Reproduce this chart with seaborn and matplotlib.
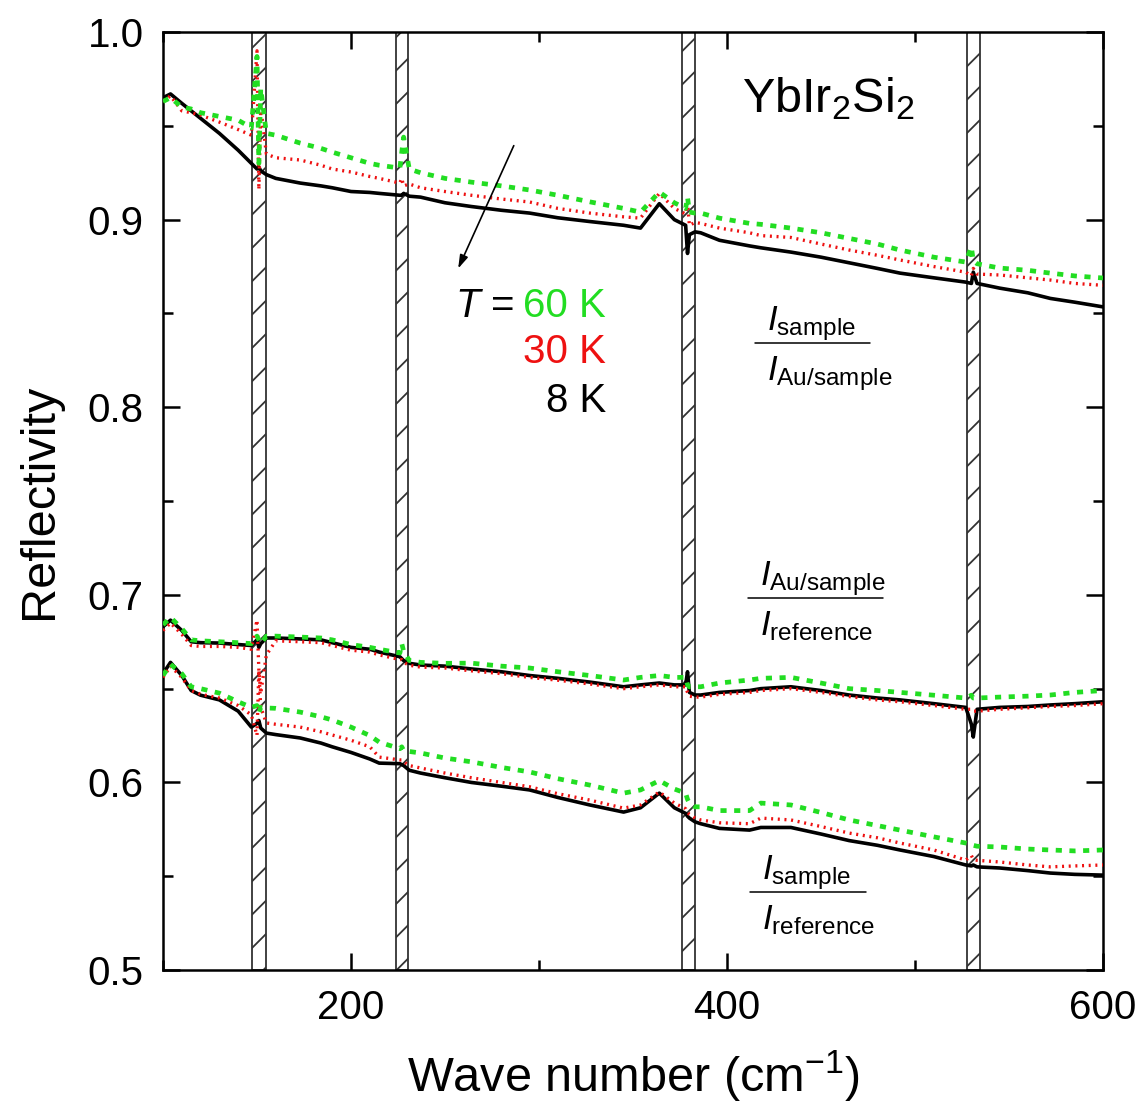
import numpy as np
import pandas as pd
import matplotlib
matplotlib.use("Agg")
import matplotlib.pyplot as plt
from matplotlib.ticker import MultipleLocator
import seaborn as sns

# wave number grid (cm-1)
wavenumber = [100, 104, 110, 115, 120, 130, 140, 147, 150, 151, 152, 155, 160, 173, 184, 190,
              200, 210, 215, 226, 227, 228, 231, 237, 250, 264, 280, 295, 310, 327, 345, 354,
              364, 372, 378, 379, 380, 383, 386, 396, 412, 418, 434, 450, 465, 480, 492, 510,
              527, 530, 531, 533, 545, 560, 572, 585, 600]

# I_sample / I_Au/sample
top_8K = [0.965, 0.967, 0.962, 0.958, 0.954, 0.946, 0.937, 0.930, 0.927, 0.928, 0.926, 0.924,
          0.922, 0.9195, 0.918, 0.917, 0.915, 0.9145, 0.914, 0.913, 0.913, 0.914, 0.9125, 0.912,
          0.909, 0.907, 0.905, 0.9035, 0.901, 0.899, 0.897, 0.8955, 0.9085, 0.900, 0.897, 0.882,
          0.892, 0.8935, 0.893, 0.889, 0.886, 0.885, 0.8827, 0.880, 0.877, 0.874, 0.8715, 0.869,
          0.8667, 0.866, 0.872, 0.866, 0.8635, 0.861, 0.858, 0.856, 0.8535]
top_30K = [0.963, 0.966, 0.958, 0.957, 0.9557, 0.952, 0.948, 0.945, 0.990, 0.916, 0.960, 0.935,
           0.933, 0.9318, 0.929, 0.927, 0.9254, 0.923, 0.922, 0.9195, 0.922, 0.918, 0.919, 0.917,
           0.915, 0.913, 0.911, 0.9094, 0.906, 0.9035, 0.9015, 0.9008, 0.914, 0.906, 0.903, 0.909,
           0.897, 0.8985, 0.898, 0.8955, 0.893, 0.8915, 0.8905, 0.887, 0.8838, 0.881, 0.8785, 0.875,
           0.872, 0.870, 0.874, 0.871, 0.8705, 0.869, 0.8678, 0.866, 0.865]
top_60K = [0.963, 0.965, 0.960, 0.959, 0.957, 0.955, 0.953, 0.949, 0.987, 0.930, 0.970, 0.946,
           0.945, 0.9408, 0.938, 0.936, 0.933, 0.930, 0.929, 0.9275, 0.936, 0.944, 0.927, 0.925,
           0.922, 0.920, 0.918, 0.9158, 0.913, 0.9095, 0.906, 0.904, 0.9147, 0.909, 0.906, 0.912,
           0.904, 0.9035, 0.9035, 0.9008, 0.898, 0.8975, 0.8955, 0.893, 0.890, 0.887, 0.8838, 0.880,
           0.8774, 0.8855, 0.878, 0.8765, 0.8742, 0.873, 0.8715, 0.870, 0.8689]

# I_Au/sample / I_reference
mid_8K = [0.683, 0.6865, 0.681, 0.675, 0.6745, 0.6743, 0.6735, 0.673, 0.676, 0.672, 0.674, 0.677,
          0.677, 0.6765, 0.676, 0.6745, 0.672, 0.671, 0.6695, 0.667, 0.666, 0.665, 0.6635, 0.6626,
          0.662, 0.6605, 0.659, 0.657, 0.6555, 0.6535, 0.651, 0.652, 0.653, 0.652, 0.652, 0.659,
          0.648, 0.6466, 0.6466, 0.648, 0.649, 0.650, 0.651, 0.649, 0.6466, 0.645, 0.644, 0.642,
          0.640, 0.631, 0.6242, 0.639, 0.640, 0.6405, 0.6413, 0.642, 0.643]
mid_30K = [0.681, 0.685, 0.679, 0.673, 0.6725, 0.6725, 0.672, 0.671, 0.6866, 0.660, 0.6476, 0.668,
           0.6755, 0.675, 0.6745, 0.673, 0.6705, 0.6695, 0.668, 0.6655, 0.6655, 0.664, 0.6625, 0.6615,
           0.661, 0.6595, 0.658, 0.656, 0.6545, 0.6525, 0.650, 0.651, 0.652, 0.651, 0.651, 0.648,
           0.646, 0.6455, 0.6455, 0.647, 0.648, 0.649, 0.650, 0.648, 0.6458, 0.644, 0.643, 0.641,
           0.639, 0.639, 0.638, 0.638, 0.639, 0.6398, 0.6405, 0.641, 0.642]
mid_60K = [0.684, 0.688, 0.682, 0.676, 0.6755, 0.675, 0.6745, 0.674, 0.678, 0.676, 0.674, 0.678,
           0.678, 0.6775, 0.677, 0.676, 0.6735, 0.672, 0.671, 0.669, 0.674, 0.670, 0.665, 0.664,
           0.6635, 0.6636, 0.662, 0.661, 0.659, 0.657, 0.6546, 0.656, 0.657, 0.656, 0.656, 0.652,
           0.651, 0.651, 0.651, 0.653, 0.6546, 0.6555, 0.656, 0.653, 0.650, 0.649, 0.648, 0.6465,
           0.645, 0.6465, 0.645, 0.645, 0.6455, 0.646, 0.6466, 0.648, 0.649]

# I_sample / I_reference
bot_8K = [0.658, 0.664, 0.657, 0.649, 0.6465, 0.644, 0.638, 0.6295, 0.6315, 0.633, 0.629, 0.6263,
          0.6255, 0.6237, 0.621, 0.619, 0.616, 0.6125, 0.6103, 0.610, 0.6095, 0.609, 0.6065, 0.605,
          0.6025, 0.600, 0.598, 0.596, 0.592, 0.588, 0.5842, 0.5865, 0.5943, 0.5865, 0.5835, 0.582,
          0.581, 0.579, 0.578, 0.5755, 0.5746, 0.576, 0.576, 0.5725, 0.569, 0.5665, 0.564, 0.5605,
          0.556, 0.5555, 0.556, 0.555, 0.5544, 0.553, 0.5517, 0.551, 0.5506]
bot_30K = [0.656, 0.662, 0.656, 0.649, 0.647, 0.645, 0.641, 0.636, 0.625, 0.660, 0.640, 0.6317,
           0.631, 0.6295, 0.627, 0.6253, 0.6225, 0.619, 0.6135, 0.612, 0.612, 0.611, 0.609, 0.6077,
           0.605, 0.6025, 0.600, 0.5977, 0.594, 0.5906, 0.5863, 0.588, 0.5949, 0.589, 0.586, 0.584,
           0.583, 0.581, 0.580, 0.5785, 0.578, 0.581, 0.580, 0.5765, 0.573, 0.5705, 0.5677, 0.564,
           0.5586, 0.561, 0.559, 0.5585, 0.5576, 0.556, 0.555, 0.5555, 0.556]
bot_60K = [0.657, 0.663, 0.658, 0.651, 0.650, 0.6476, 0.643, 0.640, 0.641, 0.637, 0.640, 0.6397,
           0.6395, 0.6375, 0.635, 0.6333, 0.6295, 0.625, 0.6215, 0.618, 0.619, 0.617, 0.6165, 0.6157,
           0.613, 0.611, 0.608, 0.6056, 0.602, 0.5986, 0.5943, 0.596, 0.601, 0.5965, 0.5943, 0.591,
           0.589, 0.587, 0.587, 0.585, 0.585, 0.589, 0.588, 0.584, 0.580, 0.577, 0.5746, 0.571,
           0.5677, 0.567, 0.5665, 0.566, 0.5656, 0.5645, 0.564, 0.5635, 0.564]

temperatures = ["8 K", "30 K", "60 K"]
ratios = ["top", "mid", "bot"]

# excluded spectral windows (cm-1)
band_lo = [147.3, 223.7, 376.0, 527.7]
band_hi = [154.8, 230.3, 383.0, 534.6]

series = {("top", "8 K"): top_8K, ("top", "30 K"): top_30K, ("top", "60 K"): top_60K,
          ("mid", "8 K"): mid_8K, ("mid", "30 K"): mid_30K, ("mid", "60 K"): mid_60K,
          ("bot", "8 K"): bot_8K, ("bot", "30 K"): bot_30K, ("bot", "60 K"): bot_60K}

rows = []
for (r, t), vals in series.items():
    for w, v in zip(wavenumber, vals):
        rows.append({"Wave number": w, "Reflectivity": v, "T": t, "ratio": r})
df = pd.DataFrame(rows)

sns.set_style("ticks")
plt.rcParams["font.family"] = ["Liberation Sans", "DejaVu Sans"]
plt.rcParams["mathtext.fontset"] = "custom"
plt.rcParams["mathtext.rm"] = "Liberation Sans"
plt.rcParams["mathtext.it"] = "Liberation Sans:italic"
plt.rcParams["mathtext.bf"] = "Liberation Sans:bold"
plt.rcParams["hatch.linewidth"] = 1.3
for key in ["text.color", "axes.labelcolor", "xtick.color", "ytick.color", "axes.edgecolor"]:
    plt.rcParams[key] = "black"

colors = {"8 K": "black", "30 K": "#ee1111", "60 K": "#22dd22"}
styles = {"8 K": "-", "30 K": (0, (0.6, 1.4)), "60 K": (0, (1.3, 1.6))}
widths = {"8 K": 2.6, "30 K": 2.4, "60 K": 3.4}

fig = plt.figure(figsize=(11.43, 11.09), dpi=100)
ax = fig.add_axes([0.1426, 0.1253, 0.8224, 0.8458])

for lo, hi in zip(band_lo, band_hi):
    ax.axvspan(lo, hi, facecolor="white", edgecolor="#333333", hatch="/", lw=1.3, zorder=1)

for r in ratios:
    for t in temperatures:
        sub = df[(df["ratio"] == r) & (df["T"] == t)]
        sns.lineplot(data=sub, x="Wave number", y="Reflectivity", ax=ax, color=colors[t],
                     linestyle=styles[t], lw=widths[t], zorder=3, legend=False)

ax.set_xlim(100, 600)
ax.set_ylim(0.5, 1.0)
ax.set_xticks([200, 400, 600])
ax.xaxis.set_minor_locator(MultipleLocator(100))
ax.yaxis.set_major_locator(MultipleLocator(0.1))
ax.yaxis.set_minor_locator(MultipleLocator(0.05))
ax.tick_params(which="both", direction="in", top=True, right=True, width=1.8)
ax.tick_params(which="major", length=12, labelsize=29, pad=14)
ax.tick_params(which="minor", length=7)
for s in ax.spines.values():
    s.set_linewidth(1.8)

ax.set_xlabel("Wave number (cm$^{-1}$)", fontsize=35, labelpad=15)
ax.set_ylabel("Reflectivity", fontsize=35, labelpad=18)

ax.text(453.7, 0.9574, r"YbIr$_2$Si$_2$", fontsize=35, ha="center", va="baseline")

ax.annotate("", xy=(256.4, 0.8726), xytext=(287.2, 0.9408),
            arrowprops=dict(arrowstyle="-|>,head_length=0.8,head_width=0.25",
                            color="black", lw=1.2))
ax.text(287.0, 0.848, r"$T$ =", fontsize=29, ha="right", va="baseline")
ax.text(335.6, 0.848, "60 K", fontsize=29, ha="right", va="baseline", color=colors["60 K"])
ax.text(335.6, 0.8236, "30 K", fontsize=29, ha="right", va="baseline", color=colors["30 K"])
ax.text(335.6, 0.7974, "8 K", fontsize=29, ha="right", va="baseline", color=colors["8 K"])


def fraction(x0, x1, yline, num, den):
    ax.plot([x0, x1], [yline, yline], transform=ax.transAxes, color="black", lw=1.1)
    ax.text(x0 + 0.013, yline + 0.014, r"$I_{\mathrm{%s}}$" % num, transform=ax.transAxes,
            fontsize=25, va="baseline", ha="left")
    ax.text(x0 + 0.013, yline - 0.0394, r"$I_{\mathrm{%s}}$" % den, transform=ax.transAxes,
            fontsize=25, va="baseline", ha="left")


fraction(0.6298, 0.7521, 0.6684, "sample", "Au/sample")
fraction(0.6223, 0.7660, 0.3966, "Au/sample", "reference")
fraction(0.6245, 0.7479, 0.0832, "sample", "reference")

fig.savefig("out.png", dpi=100)
